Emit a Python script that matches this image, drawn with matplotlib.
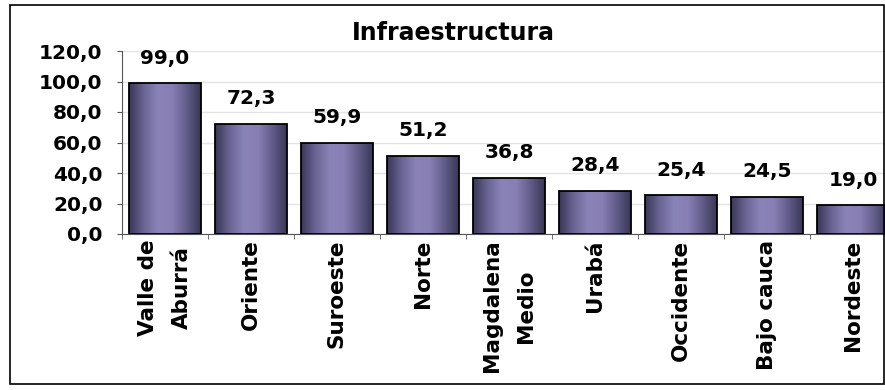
import matplotlib
matplotlib.use('Agg')
import matplotlib.pyplot as plt
import numpy as np
from matplotlib.colors import LinearSegmentedColormap
from matplotlib.patches import Rectangle

plt.rcParams['font.family'] = ['DejaVu Sans']

regiones = ['Valle de\nAburrá', 'Oriente', 'Suroeste', 'Norte', 'Magdalena\nMedio',
            'Urabá', 'Occidente', 'Bajo cauca', 'Nordeste']
valores = [99.0, 72.3, 59.9, 51.2, 36.8, 28.4, 25.4, 24.5, 19.0]
yticks = [0, 20, 40, 60, 80, 100, 120]

fig = plt.figure(figsize=(8.85, 3.9), dpi=100)
ax = fig.add_axes([122/885, 1 - 234/390, (896 - 122)/885, (234 - 51)/390])

x = np.arange(len(regiones))
width = 0.83
bars = ax.bar(x, valores, width, color='none', edgecolor='black', linewidth=1.3, zorder=3)

# gradient fill: dark edges, light centre
cmap = LinearSegmentedColormap.from_list('bar', ['#3a3756', '#6a6494', '#8a83b8', '#8880b5', '#625c8a', '#3a3756'])
grad = np.linspace(0, 1, 200).reshape(1, -1)
for b in bars:
    im = ax.imshow(grad, cmap=cmap, aspect='auto', zorder=2,
                   extent=[b.get_x(), b.get_x() + b.get_width(), 0, b.get_height()])
    im.set_clip_path(b)

for xi, v in zip(x, valores):
    ax.annotate(f'{v:.1f}'.replace('.', ','), (xi, v), xytext=(0, 18), textcoords='offset points',
                ha='center', va='center', fontsize=14.5, fontweight='bold')

ax.set_xlim(-0.5, len(regiones) - 0.5)
ax.set_ylim(0, 120)
ax.set_yticks(yticks)
ax.set_yticklabels([f'{t:.1f}'.replace('.', ',') for t in yticks], fontsize=14.5, fontweight='bold')
ax.set_xticks(x)
ax.set_xticklabels(regiones, rotation=90, fontsize=15.5, fontweight='bold', linespacing=1.85)
ax.tick_params(axis='x', length=0, pad=4)
ax.set_xticks(np.arange(len(regiones) + 1) - 0.5, minor=True)
ax.tick_params(axis='x', which='minor', length=3.6, direction='out', color='#555555')
ax.tick_params(axis='y', length=3.6, direction='out', color='#555555', pad=10.5)
ax.yaxis.grid(True, color='#e4e4e4', linewidth=1, zorder=0)
ax.set_axisbelow(True)
for s in ['top', 'right']:
    ax.spines[s].set_visible(False)
ax.spines['left'].set_color('#555555')
ax.spines['bottom'].set_color('#555555')

ax.set_title('Infraestructura', fontsize=17, fontweight='bold', x=(453 - 122)/774, y=1.0, pad=8)

fig.patches.append(Rectangle((10/885, 1 - 384/390), (884 - 10)/885, (384 - 5)/390,
                             transform=fig.transFigure, fill=False, edgecolor='black', linewidth=1.2))

plt.savefig('out.png', dpi=100)
